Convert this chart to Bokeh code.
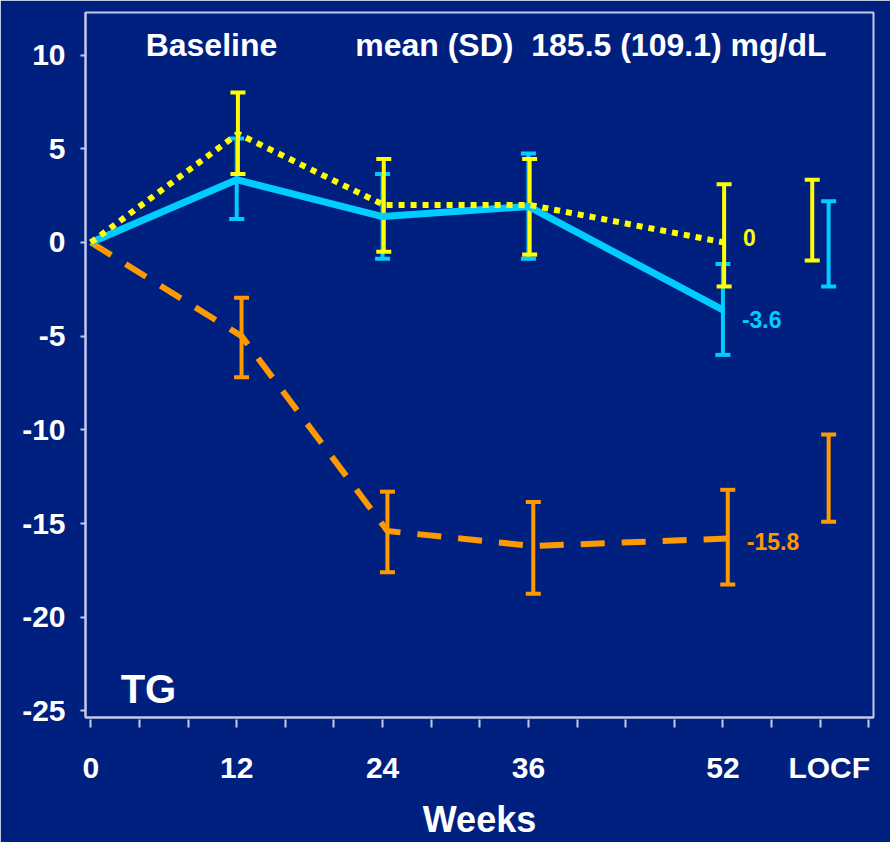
from bokeh.plotting import figure
from bokeh.models import ColumnDataSource, Whisker, TeeHead, Range1d, FixedTicker, Label
from bokeh.embed import file_html
from bokeh.resources import INLINE

# ---- data: change from baseline in TG (mg/dL) ----
weeks = [0, 12, 24, 36, 52]
locf_week = 60.75
x_tick_labels = ["0", "12", "24", "36", "52", "LOCF"]
y_ticks = [-25, -20, -15, -10, -5, 0, 5, 10]

yellow_mean = [0.0, 5.8, 2.0, 2.0, 0.0]
yellow_upper = [8.0, 4.45, 4.45, 3.1]
yellow_lower = [3.65, -0.5, -0.65, -2.35]
yellow_locf_upper = 3.35
yellow_locf_lower = -0.97

blue_mean = [0.0, 3.35, 1.38, 1.92, -3.6]
blue_upper = [5.55, 3.65, 4.75, -1.15]
blue_lower = [1.25, -0.87, -0.87, -6.0]
blue_locf_upper = 2.2
blue_locf_lower = -2.35

orange_mean = [0.0, -5.0, -15.4, -16.2, -15.8]
orange_upper = [-2.95, -13.3, -13.85, -13.2]
orange_lower = [-7.2, -17.6, -18.75, -18.25]
orange_locf_upper = -10.25
orange_locf_lower = -14.9

# ---- styling ----
NAVY = "#002080"
FRAME = "#C4CAEA"
FONT = "Liberation Sans"
YELLOW = "#FFFF00"
BLUE = "#00CCFF"
ORANGE = "#FF9900"

p = figure(width=890, height=842, output_backend="svg", toolbar_location=None,
           x_range=Range1d(-0.44, 64.39), y_range=Range1d(-25.35, 12.27),
           min_border_left=85, min_border_right=17, min_border_top=12,
           min_border_bottom=123)
p.background_fill_color = NAVY
p.border_fill_color = NAVY
p.outline_line_color = FRAME
p.outline_line_width = 2
p.grid.visible = False

# x axis: labels at the visit weeks, small marks every 4 weeks
xaxis = p.xaxis[0]
label_ticks = weeks + [locf_week]
xaxis.ticker = FixedTicker(ticks=label_ticks, minor_ticks=list(range(0, 65, 4)))
xaxis.major_label_overrides = {t: s for t, s in zip(label_ticks, x_tick_labels)}
xaxis.major_tick_line_color = None
xaxis.major_tick_in = 0
xaxis.major_tick_out = 0
xaxis.minor_tick_line_color = FRAME
xaxis.minor_tick_line_width = 2
xaxis.minor_tick_in = -2
xaxis.minor_tick_out = 10
xaxis.major_label_standoff = 23
xaxis.axis_label = "Weeks"
xaxis.axis_label_text_font = FONT
xaxis.axis_label_text_font_style = "bold"
xaxis.axis_label_text_font_size = "36px"
xaxis.axis_label_text_color = "white"
xaxis.axis_label_standoff = 12

yaxis = p.yaxis[0]
yaxis.ticker = FixedTicker(ticks=y_ticks)
yaxis.major_label_overrides = {t: str(t) for t in y_ticks}
yaxis.minor_tick_line_color = None
yaxis.major_tick_line_color = FRAME
yaxis.major_tick_line_width = 2
yaxis.major_tick_in = 0
yaxis.major_tick_out = 5
yaxis.major_label_standoff = 15

for ax in (xaxis, yaxis):
    ax.axis_line_color = FRAME
    ax.axis_line_width = 2
    ax.major_label_text_font = FONT
    ax.major_label_text_font_style = "bold"
    ax.major_label_text_font_size = "30px"
    ax.major_label_text_color = "white"


def series(mean, upper, lower, locf_upper, locf_lower, color, dodge, locf_dodge,
           line_kw, label_offset):
    xs = [w + dodge if w > 0 else w for w in weeks]
    p.line(xs, mean, line_color=color, **line_kw)
    src = ColumnDataSource(dict(
        x=xs[1:] + [locf_week + locf_dodge],
        upper=upper + [locf_upper],
        lower=lower + [locf_lower],
    ))
    p.add_layout(Whisker(
        source=src, base="x", upper="upper", lower="lower", dimension="height",
        line_color=color, line_width=4,
        upper_head=TeeHead(size=15, line_color=color, line_width=4),
        lower_head=TeeHead(size=15, line_color=color, line_width=4),
    ))
    last = mean[-1]
    p.add_layout(Label(
        x=xs[-1], y=last, text=f"{last:g}", x_offset=19, y_offset=label_offset,
        text_font=FONT, text_font_style="bold", text_font_size="23px",
        text_color=color, text_baseline="middle", text_align="left",
    ))


series(orange_mean, orange_upper, orange_lower, orange_locf_upper, orange_locf_lower,
       ORANGE, 0.4, -0.05, dict(line_width=6, line_dash="24 17"), -3)
series(blue_mean, blue_upper, blue_lower, blue_locf_upper, blue_locf_lower,
       BLUE, 0.0, -0.05, dict(line_width=7), -10)
series(yellow_mean, yellow_upper, yellow_lower, yellow_locf_upper, yellow_locf_lower,
       YELLOW, 0.1, -1.4, dict(line_width=6, line_dash="6 6"), 5)

# header and panel texts
text_kw = dict(text_font=FONT, text_font_style="bold", text_color="white",
               text_baseline="alphabetic")
p.add_layout(Label(x=4.51, y=10.52, text="Baseline", text_font_size="32px", **text_kw))
p.add_layout(Label(x=21.75, y=10.52, text="mean (SD)\u00a0\u00a0185.5 (109.1) mg/dL",
                   text_font_size="32px", **text_kw))
p.add_layout(Label(x=2.45, y=-23.85, text="TG", text_font_size="40px", **text_kw))

with open("out.html", "w") as f:
    f.write(file_html(p, INLINE))
